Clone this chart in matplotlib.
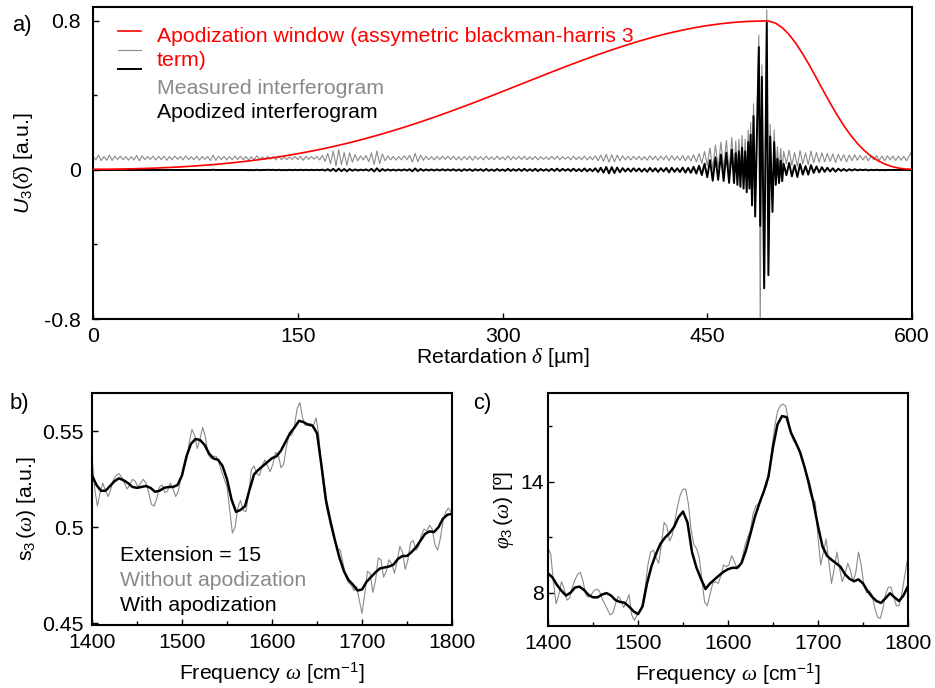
import numpy as np
import matplotlib.pyplot as plt

plt.rcParams['font.family'] = 'Liberation Sans'
plt.rcParams['mathtext.fontset'] = 'custom'
plt.rcParams['mathtext.rm'] = 'Liberation Sans'
plt.rcParams['mathtext.it'] = 'Liberation Serif:italic'
plt.rcParams['mathtext.sf'] = 'Liberation Sans:italic'
plt.rcParams['axes.unicode_minus'] = False

GRAY = '#8a8a8a'
FS = 15.3

# ---------------- a) interferogram ----------------
# apodization window (scaled to 0.8)
window_delta = list(range(0, 500, 10)) + [493.6] + list(range(495, 601, 5))
window = [0.0039, 0.0042, 0.0051, 0.0066, 0.0087, 0.0115, 0.0150, 0.0192, 0.0243, 0.0302,
          0.0371, 0.0449, 0.0538, 0.0638, 0.0751, 0.0875, 0.1012, 0.1163, 0.1326, 0.1502,
          0.1693, 0.1897, 0.2114, 0.2342, 0.2582, 0.2834, 0.3095, 0.3365, 0.3642, 0.3926,
          0.4214, 0.4505, 0.4796, 0.5086, 0.5374, 0.5655, 0.5930, 0.6195, 0.6448, 0.6687,
          0.6915, 0.7125, 0.7314, 0.7480, 0.7630, 0.7752, 0.7852, 0.7929, 0.7976, 0.7998,
          0.8000,
          0.7994, 0.7884, 0.7638, 0.7268, 0.6789, 0.6224, 0.5601, 0.4935, 0.4259, 0.3596,
          0.2967, 0.2388, 0.1871, 0.1423, 0.1047, 0.0738, 0.0503, 0.0321, 0.0188, 0.0105,
          0.0053, 0.0039]

meas_offset = 0.064  # baseline of the measured trace

# 0..468 um every 2 um, in 1e-3 (measured: deviation from baseline)
meas_a = [12, -10, 15, -14, 9, -12, 16, -13, 11, -8, 10,
          -9, 7, -11, 8, -10, 14, -15, 12, -9, 8, -7, 10, -11, 9, -8,
          10, -12, 8, -9, 11, -7, 9, -10, 12, -8, 7, -9, 10, -11, 8,
          -7, 9, -13, 15, -12, 10, -8, 9, -10, 7, -9, 11, -8, 10, -9,
          8, -10, 7, -9, 12, -8, 6, -7, 9, -6, 8, -10, 11, -9, 7,
          -8, 6, -7, 9, -8, 10, -12, 9, -7, 8, -6, 9, -10, 14, -18,
          25, -30, 38, -42, 45, -35, 30, -40, 28, -22, 18, -15, 12, -10, 14,
          -20, 28, -35, 38, -30, 22, -15, 12, -10, 9, -11, 8, -10, 12, -9,
          15, -22, 25, -20, 16, -12, 10, -9, 8, -10, 9, -8, 10, -7, 9,
          -8, 10, -9, 7, -11, 9, -8, 10, -12, 9, -7, 8, -10, 11, -8,
          7, -9, 10, -8, 6, -9, 11, -10, 8, -7, 9, -8, 10, -9, 7,
          -8, 9, -10, 8, -7, 6, -8, 9, -7, 10, -9, 8, -6, 7, -9,
          10, -8, 7, -9, 11, -10, 8, -9, 12, -14, 16, -18, 20, -22, 18,
          -20, 16, -14, 12, -10, 9, -11, 10, -8, 9, -10, 8, -11, 12, -9,
          10, -12, 11, -9, 12, -14, 13, -11, 10, -12, 14, -15, 12, -16, 18,
          -20, 24, -28, 35, -40, 55, -60, 70, -55, 85, -60, 95, -70, 110]
apod_a = [0, 0, 0, 0, 0, 0, 0, 0, 0, 0, 0,
          0, 0, 0, 0, 0, 0, 0, 0, 0, 0, 0, 0, 0, 0, 0,
          0, 0, 0, 0, 0, 0, 0, 0, 0, 0, 0, 0, 0, 0, 0,
          0, 0, 0, 1, 0, 0, 0, 0, 0, 0, 0, 0, 0, 0, 0,
          0, -1, 0, -1, 1, -1, 0, 0, 1, 0, 1, -1, 1, -1, 0,
          -1, 1, -1, 1, -1, 1, -1, 1, -1, 1, -1, 1, -1, 2, -3,
          4, -5, 6, -7, 7, -6, 5, -7, 5, -4, 3, -3, 2, -2, 3,
          -4, 6, -8, 9, -7, 5, -4, 3, -3, 2, -3, 2, -3, 3, -3,
          4, -7, 8, -6, 5, -4, 3, -3, 3, -3, 3, -3, 4, -3, 3,
          -3, 4, -4, 3, -5, 4, -3, 4, -5, 4, -3, 4, -5, 5, -4,
          3, -5, 5, -4, 3, -5, 6, -5, 4, -4, 5, -5, 6, -5, 4,
          -5, 6, -6, 5, -4, 4, -5, 6, -5, 7, -6, 6, -4, 5, -6,
          7, -6, 5, -7, 8, -7, 6, -7, 9, -11, 12, -14, 16, -18, 15,
          -16, 13, -12, 10, -8, 8, -9, 9, -7, 8, -9, 7, -10, 11, -8,
          9, -11, 10, -8, 11, -13, 12, -10, 9, -11, 13, -14, 11, -15, 17,
          -19, 23, -27, 34, -39, 53, -58, 68, -53, 83, -59, 93, -69, 109]

# centre burst, turning points
burst_delta = [469.6, 470.9, 472.1, 473.2, 474.3, 475.5, 476.6, 477.8, 478.9, 480.0,
               480.9, 481.8, 482.8, 483.9, 485.1, 487.8, 488.8, 490.0, 491.7, 493.6,
               494.8, 496.1, 497.8, 499.0, 500.2, 501.4, 502.6, 503.8, 504.9]
meas_burst = [-0.005, 0.155, -0.015, 0.165, -0.025, 0.185, -0.035, 0.165, -0.055, 0.215,
              -0.035, 0.255, -0.125, 0.355, -0.185, 0.725, -0.82, 0.565, -0.57, 0.86,
              -0.50, 0.245, -0.16, 0.215, -0.015, 0.125, -0.005, 0.115, 0.0]
apod_burst = [-0.07, 0.09, -0.08, 0.10, -0.09, 0.12, -0.10, 0.10, -0.12, 0.15,
              -0.10, 0.19, -0.19, 0.29, -0.25, 0.66, -0.30, 0.50, -0.635, 0.79,
              -0.565, 0.18, -0.225, 0.15, -0.08, 0.06, -0.07, 0.05, -0.06]

# 506..600 um every 2 um, in 1e-3
meas_c = [35, -30, 42, -38, 30, -45, 40, -32, 28, -35, 38, -25, 30,
          -22, 28, -20, 25, -18, 22, -24, 20, -15, 18, -20, 16, -14, 18, -12,
          14, -10, 12, -15, 11, -9, 13, -12, 10, -14, 12, -9, 11, -13, 10,
          -12, 9, -14, 12, 36]
apod_c = [33, -28, 38, -34, 26, -38, 32, -25, 21, -25, 26, -16, 19,
          -13, 15, -10, 12, -8, 9, -9, 7, -5, 5, -5, 4, -3, 4, -2,
          2, -1, 2, -2, 1, -1, 1, -1, 0, -1, 0, 0, 0, 0, 0,
          0, 0, 0, 0, 0]

# ---------------- b), c) spectra ----------------
# with apodization: 1400..1800 every 5 cm-1
amp_apod = [0.527, 0.522, 0.519, 0.519, 0.5215, 0.524, 0.5255, 0.5245, 0.523, 0.521,
            0.5205, 0.521, 0.5215, 0.5205, 0.5185, 0.519, 0.5205, 0.521, 0.521, 0.522,
            0.527, 0.537, 0.5435, 0.546, 0.5455, 0.543, 0.5385, 0.5358, 0.5352, 0.532,
            0.525, 0.5145, 0.508, 0.509, 0.511, 0.5195, 0.5275, 0.530, 0.532, 0.534,
            0.536, 0.537, 0.540, 0.5445, 0.549, 0.552, 0.5555, 0.5548, 0.5535, 0.553,
            0.549, 0.532, 0.514, 0.503, 0.493, 0.484, 0.477, 0.4725, 0.470, 0.467,
            0.4675, 0.4715, 0.474, 0.4765, 0.4785, 0.479, 0.4795, 0.4805, 0.4835, 0.485,
            0.485, 0.487, 0.4895, 0.493, 0.4965, 0.4978, 0.4975, 0.500, 0.5045, 0.5065,
            0.507]
phase_apod = [9.05, 8.82, 8.42, 8.1, 7.85, 8.0, 8.28, 8.33, 8.15, 7.88,
              7.75, 7.75, 7.9, 7.98, 7.85, 7.6, 7.5, 7.46, 7.25, 7.0,
              6.84, 7.25, 8.5, 9.43, 10.1, 10.65, 10.98, 11.22, 11.55, 12.08,
              12.39, 11.8, 10.2, 9.35, 8.75, 8.2, 8.5, 8.72, 8.93, 9.13,
              9.27, 9.35, 9.34, 9.6, 10.3, 11.2, 12.12, 12.85, 13.5, 14.3,
              15.88, 17.1, 17.55, 17.5, 16.65, 16.15, 15.6, 14.8, 13.9, 12.85,
              11.6, 10.5, 10.0, 9.78, 9.6, 9.4, 9.0, 8.75, 8.62, 8.72,
              8.5, 8.1, 7.78, 7.55, 7.45, 7.7, 7.97, 7.75, 7.55, 7.85,
              8.36]
# without apodization: 1400..1799 every 3 cm-1
amp_raw = [0.537, 0.520, 0.511, 0.518, 0.523, 0.519, 0.516, 0.520, 0.525, 0.527,
           0.528, 0.526, 0.523, 0.520, 0.522, 0.525, 0.524, 0.521, 0.523, 0.525,
           0.523, 0.518, 0.512, 0.511, 0.515, 0.521, 0.522, 0.518, 0.519, 0.523,
           0.520, 0.516, 0.519, 0.526, 0.532, 0.535, 0.544, 0.551, 0.548, 0.541,
           0.546, 0.552, 0.547, 0.538, 0.536, 0.537, 0.537, 0.534, 0.529, 0.525,
           0.521, 0.509, 0.497, 0.500, 0.510, 0.514, 0.509, 0.508, 0.517, 0.530,
           0.532, 0.528, 0.527, 0.532, 0.535, 0.532, 0.529, 0.533, 0.539, 0.538,
           0.531, 0.533, 0.542, 0.548, 0.548, 0.553, 0.562, 0.565, 0.557, 0.553,
           0.554, 0.554, 0.553, 0.557, 0.548, 0.530, 0.518, 0.509, 0.503, 0.497,
           0.493, 0.489, 0.488, 0.481, 0.474, 0.471, 0.470, 0.467, 0.469, 0.462,
           0.455, 0.465, 0.477, 0.476, 0.466, 0.472, 0.484, 0.483, 0.474, 0.477,
           0.483, 0.481, 0.476, 0.482, 0.490, 0.487, 0.478, 0.483, 0.492, 0.493,
           0.488, 0.490, 0.496, 0.499, 0.498, 0.501, 0.499, 0.491, 0.488, 0.494,
           0.503, 0.508, 0.510, 0.508]
phase_raw = [10.4, 10.1, 8.6, 7.4, 7.9, 8.6, 8.2, 7.6, 7.7, 8.3,
             8.7, 9.0, 9.1, 8.6, 7.9, 7.75, 7.9, 8.1, 8.2, 8.1,
             7.7, 7.4, 7.1, 6.8, 6.9, 7.4, 7.8, 7.6, 7.2, 7.5,
             7.9, 6.8, 6.5, 6.8, 7.0, 7.4, 8.3, 9.5, 10.2, 10.3,
             9.9, 9.6, 10.6, 11.8, 11.6, 10.8, 11.1, 11.9, 12.7, 13.3,
             13.6, 13.6, 12.8, 11.4, 10.6, 10.4, 9.9, 8.7, 7.5, 7.3,
             7.9, 8.5, 8.6, 8.5, 8.9, 9.5, 9.4, 9.5, 10.0, 9.7,
             9.3, 9.4, 9.9, 10.6, 11.0, 11.4, 12.3, 12.7, 12.8, 13.2,
             13.5, 13.8, 14.6, 15.9, 17.0, 17.8, 18.1, 18.2, 18.1, 17.4,
             16.6, 16.2, 16.0, 15.8, 15.4, 14.8, 14.1, 13.4, 13.1, 12.9,
             11.0, 9.5, 10.2, 10.9, 9.7, 8.5, 9.3, 10.2, 9.3, 8.6,
             9.0, 9.6, 9.2, 8.6, 9.1, 10.2, 9.5, 8.4, 8.0, 8.1,
             7.9, 7.2, 6.7, 6.6, 7.1, 7.9, 8.3, 8.3, 7.8, 7.3,
             7.3, 7.9, 8.8, 9.7]

# assemble interferogram
delta_meas = np.concatenate([2 * np.arange(len(meas_a)), burst_delta, 506 + 2 * np.arange(len(meas_c))])
delta_apod = np.concatenate([2 * np.arange(len(apod_a)), burst_delta, 506 + 2 * np.arange(len(apod_c))])
measured = np.concatenate([meas_offset + np.array(meas_a) / 1000, meas_burst,
                           meas_offset + np.array(meas_c) / 1000])
apodized = np.concatenate([np.array(apod_a) / 1000, apod_burst, np.array(apod_c) / 1000])

w_apod = 1400 + 5 * np.arange(len(amp_apod))
w_raw = 1400 + 3 * np.arange(len(amp_raw))


def style(ax, xpad, ypad):
    for s in ax.spines.values():
        s.set_linewidth(1.5)
    ax.tick_params(which='both', direction='in', top=False, right=False,
                   labelsize=FS, width=1)
    ax.tick_params(which='major', length=4)
    ax.tick_params(which='minor', length=3)
    ax.tick_params(axis='x', which='both', pad=xpad)
    ax.tick_params(axis='y', which='both', pad=ypad)


W, H = 935, 688
fig = plt.figure(figsize=(W / 100, H / 100), dpi=100)


def box(l, t, r, b):
    return [l / W, 1 - b / H, (r - l) / W, (b - t) / H]


ax1 = fig.add_axes(box(93, 7, 912, 319))
ax2 = fig.add_axes(box(92, 393, 452, 625))
ax3 = fig.add_axes(box(548, 393, 908, 626))

# ---- a)
l_meas, = ax1.plot(delta_meas, measured, color=GRAY, lw=0.8, zorder=2)
l_apod, = ax1.plot(delta_apod, apodized, color='black', lw=1.4, zorder=3)
l_win, = ax1.plot(window_delta, window, color='red', lw=1.2, zorder=4)
ax1.set_xlim(0, 600)
ax1.set_ylim(-0.8, 0.875)
ax1.set_xticks([0, 150, 300, 450, 600])
ax1.set_yticks([-0.8, 0, 0.8])
ax1.set_yticklabels(['-0.8', '0', '0.8'])
ax1.set_yticks([-0.4, 0.4], minor=True)
style(ax1, 6, 9)
ax1.set_xlabel(r'Retardation $\delta$ [µm]', fontsize=FS, labelpad=0)
ax1.set_ylabel(r'$\mathsf{U}_3(\delta)$ [a.u.]', fontsize=FS, labelpad=6)

ax1.legend([l_win, l_meas, l_apod], [' ', ' ', ' '], loc='upper left',
           bbox_to_anchor=(0.017, 0.978), frameon=False, fontsize=10,
           handlelength=1.65, labelspacing=0.37, handletextpad=0.2, borderpad=0.3)
legend_lines = [('Apodization window (assymetric blackman-harris 3', 'red', 0.907),
                ('term)', 'red', 0.827),
                ('Measured interferogram', GRAY, 0.740),
                ('Apodized interferogram', 'black', 0.663)]
for txt, col, yy in legend_lines:
    ax1.text(0.078, yy, txt, transform=ax1.transAxes, color=col, fontsize=FS, va='center')

# ---- b)
ax2.plot(w_raw, amp_raw, color=GRAY, lw=0.8)
ax2.plot(w_apod, amp_apod, color='black', lw=1.8)
ax2.set_xlim(1400, 1800)
ax2.set_ylim(0.449, 0.570)
ax2.set_xticks([1400, 1500, 1600, 1700, 1800])
ax2.set_xticks([1450, 1550, 1650, 1750], minor=True)
ax2.set_yticks([0.45, 0.5, 0.55])
ax2.set_yticklabels(['0.45', '0.5', '0.55'])
style(ax2, 6, 6)
ax2.set_xlabel(r'Frequency $\omega$ [cm$^{-1}$]', fontsize=FS, labelpad=6)
ax2.set_ylabel(r'$\mathrm{s}_3\,(\omega)$ [a.u.]', fontsize=FS, labelpad=3)
ax2.text(0.078, 0.30, 'Extension = 15', transform=ax2.transAxes, color='black',
         fontsize=FS, va='center')
ax2.text(0.078, 0.19, 'Without apodization', transform=ax2.transAxes, color=GRAY,
         fontsize=FS, va='center')
ax2.text(0.078, 0.082, 'With apodization', transform=ax2.transAxes, color='black',
         fontsize=FS, va='center')

# ---- c)
ax3.plot(w_raw, phase_raw, color=GRAY, lw=0.8)
ax3.plot(w_apod, phase_apod, color='black', lw=1.8)
ax3.set_xlim(1400, 1800)
ax3.set_ylim(6.2, 18.8)
ax3.set_xticks([1400, 1500, 1600, 1700, 1800])
ax3.set_xticks([1450, 1550, 1650, 1750], minor=True)
ax3.set_yticks([8, 14])
ax3.set_yticks([11, 17], minor=True)
style(ax3, 6, 3)
ax3.set_xlabel(r'Frequency $\omega$ [cm$^{-1}$]', fontsize=FS, labelpad=6)
ax3.set_ylabel(r'$\varphi_3\,(\omega)$ [º]', fontsize=FS, labelpad=3)

fig.text(12 / W, 1 - 25 / H, 'a)', fontsize=FS + 0.5, va='center')
fig.text(10 / W, 1 - 403 / H, 'b)', fontsize=FS + 0.5, va='center')
fig.text(473 / W, 1 - 403 / H, 'c)', fontsize=FS + 0.5, va='center')

fig.savefig('out.png', dpi=100)
